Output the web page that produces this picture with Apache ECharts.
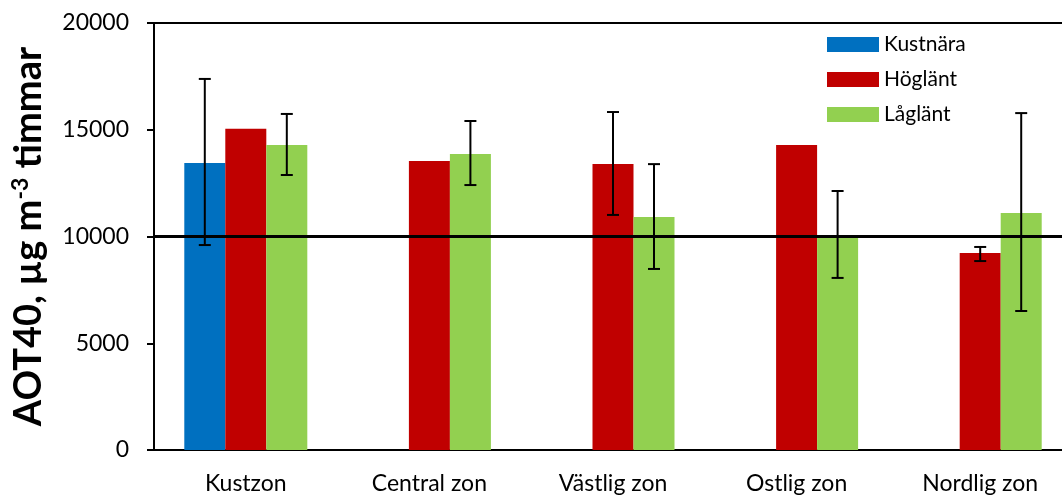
<!DOCTYPE html>
<html><head><meta charset="utf-8">
<script src="https://cdn.jsdelivr.net/npm/echarts@6/dist/echarts.min.js"></script>
<style>html,body{margin:0;padding:0;background:#fff}#c{width:1062px;height:495px}</style>
</head><body><div id="c"></div>
<script>
var categories = ['Kustzon', 'Central zon', 'Västlig zon', 'Ostlig zon', 'Nordlig zon'];
var seriesNames = ['Kustnära', 'Höglänt', 'Låglänt'];
var kustnara = [13440, null, null, null, null];
var hoglant = [15050, 13540, 13400, 14290, 9230];
var laglant = [14290, 13860, 10910, 9980, 11100];
// error bars: [low, high] or null
var kustnaraErr = [[9600, 17380], null, null, null, null];
var hoglantErr = [null, null, [11010, 15830], null, [8850, 9510]];
var laglantErr = [[12880, 15740], [12410, 15410], [8480, 13390], [8060, 12130], [6510, 15780]];
var yTicks = [0, 5000, 10000, 15000, 20000];
var refLine = 10000;
var colors = ['#0070C0', '#C00000', '#92D050'];

var GAP = 0.33;
function errData(arr){
  var out = [];
  arr.forEach(function(e, i){ if (e) out.push([i, e[0], e[1]]); });
  return out;
}
function errRender(idx){
  return function(params, api){
    var x = api.value(0), lo = api.value(1), hi = api.value(2);
    var bw = api.size([1, 0])[0] * (1 - GAP) / 3;
    var off = (idx - 1) * bw;
    var t = api.coord([x, hi]), b = api.coord([x, lo]);
    var cx = t[0] + off, h = 6;
    var st = {stroke: '#000', lineWidth: 2};
    return {type: 'group', children: [
      {type: 'line', shape: {x1: cx, y1: t[1], x2: cx, y2: b[1]}, style: st},
      {type: 'line', shape: {x1: cx - h, y1: t[1], x2: cx + h, y2: t[1]}, style: st},
      {type: 'line', shape: {x1: cx - h, y1: b[1], x2: cx + h, y2: b[1]}, style: st}
    ]};
  };
}
var FONT = 'Lato';
var chart = echarts.init(document.getElementById('c'));
var vals = [kustnara, hoglant, laglant];
var errs = [kustnaraErr, hoglantErr, laglantErr];
var series = [];
vals.forEach(function(v, i){
  var s = {name: seriesNames[i], type: 'bar', data: v, barGap: '0%', barCategoryGap: (GAP*100)+'%',
    itemStyle: {color: colors[i]}, z: 2, animation: false};
  if (i === 2) {
    s.markLine = {silent: true, symbol: ['none','none'], label: {show: false},
      lineStyle: {color: '#000', width: 3, type: 'solid'}, data: [{yAxis: refLine}], animation: false};
  }
  series.push(s);
});
errs.forEach(function(e, i){
  series.push({type: 'custom', renderItem: errRender(i), data: errData(e), z: 5, animation: false,
    encode: {x: 0, y: [1, 2]}});
});
chart.setOption({
  animation: false,
  grid: {left: 154, top: 23, right: -10, bottom: 45, outerBoundsMode: 'none', containLabel: false},
  legend: {data: seriesNames, orient: 'vertical', left: 827, top: 34, padding: 0, itemWidth: 52, itemHeight: 15, itemGap: 14,
    icon: 'rect', textStyle: {fontFamily: FONT, fontSize: 21, color: '#000'}},
  xAxis: [{type: 'category', data: categories, axisTick: {show: false},
    axisLine: {lineStyle: {color: '#000', width: 2}},
    axisLabel: {fontFamily: FONT, fontSize: 23, color: '#000', margin: 22}},
    {type: 'category', data: categories, position: 'top', axisTick: {show: false}, axisLabel: {show: false},
    axisLine: {show: true, lineStyle: {color: '#000', width: 2}}}],
  yAxis: {type: 'value', min: yTicks[0], max: yTicks[yTicks.length-1], interval: 5000,
    splitLine: {show: false},
    axisLine: {show: true, lineStyle: {color: '#000', width: 2}},
    axisTick: {show: true, length: 7, lineStyle: {color: '#000', width: 2}},
    axisLabel: {fontFamily: FONT, fontSize: 23, color: '#000', margin: 25, formatter: function(v){ return String(v); }},
    name: 'AOT40, µg m{sup|-3} timmar', nameLocation: 'middle', nameRotate: 90, nameGap: 106,
    nameTextStyle: {fontFamily: FONT, fontSize: 38, fontWeight: 'bold', color: '#000',
      rich: {sup: {fontFamily: FONT, fontSize: 23, fontWeight: 'bold', color: '#000', verticalAlign: 'top', padding: [0, 0, 16, 0]}}}},
  series: series
});
</script></body></html>
